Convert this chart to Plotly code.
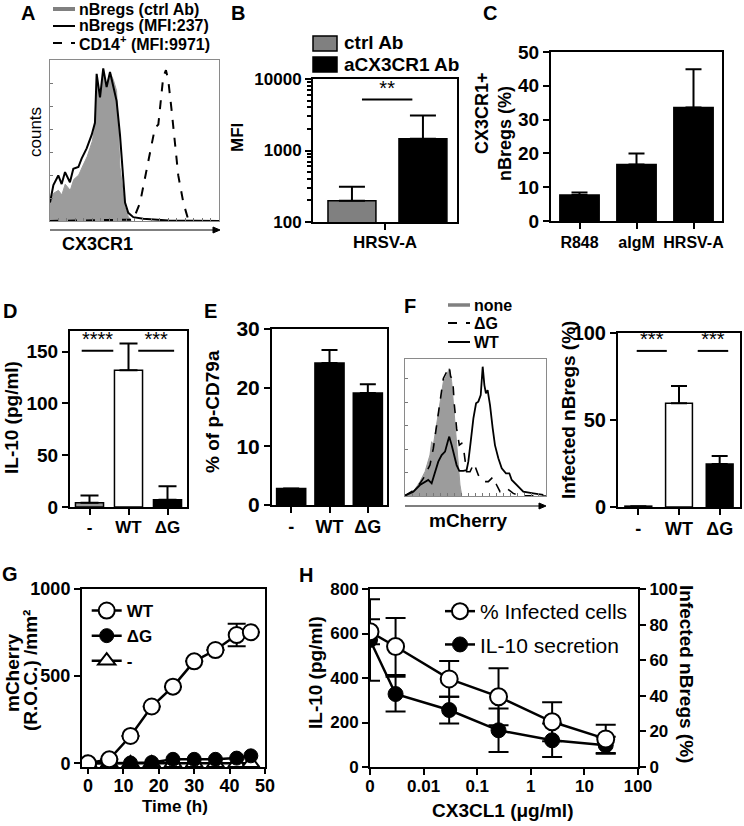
import plotly.graph_objects as go

W, H = 744, 826
FONT = "Liberation Sans, Arial, Helvetica, sans-serif"

# ---------------- data ----------------
# A: CX3CR1 histograms (relative fluorescence position, relative counts)
a_ctrl_pos = [0, 2, 5, 7, 9, 12, 14, 17, 19, 22, 25, 26.6, 27.6, 29.6, 31.5, 33.5, 35.5, 37.5, 39.4, 40.5, 41.4, 43.4, 44.4, 46.3, 48]
a_ctrl_cnt = [12, 18, 20, 17, 24, 20, 27, 30, 35, 42, 52, 62, 90, 80, 97, 88, 97, 92, 85, 60, 35, 18, 9, 3, 0]
a_nbreg_pos = [0, 2.0, 4.9, 6.9, 8.9, 11.8, 13.8, 16.8, 18.7, 21.7, 24.7, 26.6, 27.6, 29.6, 31.5, 33.5, 35.5, 37.5, 39.4, 41.4, 43.4, 44.4, 46.3, 49.3, 55.2, 62, 70, 100]
a_nbreg_cnt = [12.0, 23.5, 29.7, 24.1, 31.9, 25.3, 34.1, 35.2, 40.7, 47.4, 56.3, 64, 96, 80.6, 99.5, 87.3, 97.2, 87.3, 78.4, 56.3, 25.3, 12, 5.3, 2.5, 1.5, 1, 0.3, 0]
a_cd14_pos = [0, 49.3, 53.3, 57.2, 60.1, 62.1, 64.1, 66.1, 67.0, 68.6, 70.0, 72.0, 73.9, 75.9, 78.9, 81.8, 84.8, 100]
a_cd14_cnt = [0, 0.9, 12, 34.1, 51.8, 60.7, 62.9, 82.9, 93.9, 98.4, 91.7, 71.8, 49.6, 29.7, 12, 0.9, 0, 0]
a_legend = ["nBregs (ctrl Ab)", "nBregs (MFI:237)", "CD14<sup>+</sup> (MFI:9971)"]

# B: MFI
b_category = ["HRSV-A"]
b_series = ["ctrl Ab", "aCX3CR1 Ab"]
b_ctrl_mfi = [198]
b_ctrl_err = [112]
b_ab_mfi = [1460]
b_ab_err = [1630]
b_sig = [(-0.16, 0.19, 5150, "**")]

# C: CX3CR1+ nBregs (%)
c_cats = ["R848", "aIgM", "HRSV-A"]
c_vals = [7.7, 16.7, 33.6]
c_errs = [0.7, 3.3, 11.3]

# D: IL-10 (pg/ml)
d_cats = ["-", "WT", "ΔG"]
d_vals = [4, 132, 7]
d_errs = [7, 26, 13]
d_sig = [(-0.2, 0.61, 151, "****"), (1.25, 2.17, 151, "***")]

# E: % of p-CD79a
e_cats = ["-", "WT", "ΔG"]
e_vals = [2.8, 24.2, 19.1]
e_errs = [0, 2.2, 1.5]

# F: mCherry histograms + infected nBregs
f_none_pos = [0, 5.9, 10.6, 14.2, 17.7, 18.9, 20.1, 22.5, 24.8, 27.2, 29.6, 31.4, 33.1, 34.3, 36.2, 37.8, 39.0, 40.2]
f_none_cnt = [0.3, 3.3, 11, 18.6, 31.4, 41.6, 39, 54.4, 72.3, 87.6, 92.7, 97.8, 87.6, 72.3, 49.3, 26.3, 8.4, 0.8]
f_dg_pos = [0, 8.3, 13.0, 17.7, 20.1, 22.5, 24.8, 27.2, 29.6, 31.4, 32.4, 33.8, 35.0, 36.6, 38.5, 40.2, 41.8, 43.7, 46.1, 48.9,
            52.0, 55.6, 59.1, 62.6, 65.0, 67.4, 72.1, 76.8, 81.6, 100]
f_dg_cnt = [0.3, 5.9, 13.5, 23.7, 36.5, 54.4, 69.7, 90.1, 95.2, 99.1, 91.4, 90.1, 69.7, 51.8, 39, 40.3, 34, 18.6, 18.6, 25,
            16.1, 11, 11, 14.8, 8.4, 3.3, 5.9, 2.0, 0.3, 0]
f_wt_pos = [0, 5.9, 10.6, 14.2, 16.5, 18.9, 21.3, 23.6, 26.0, 28.4, 30.3, 31.4, 33.1, 35.0, 36.6, 38.5, 41.4, 43.7, 44.9, 46.6,
            48.5, 50.4, 52.0, 53.7, 55.1, 56.3, 57.4, 58.6, 60.3, 62.2, 63.8, 66.2, 68.6, 71.6, 74.0, 75.7, 79.2, 83.9, 91.0, 98.1]
f_wt_cnt = [0.3, 3.3, 8.4, 11, 12.3, 9.7, 17.4, 26.3, 31.4, 34, 41.6, 45.5, 39, 31.4, 23.7, 19.2, 19.2, 19.9, 26.3, 41.6,
            59.5, 71, 72.3, 77.4, 99.1, 85, 78.6, 81.2, 69.7, 51.8, 39, 28.9, 21.2, 17.4, 17.4, 12.3, 8.4, 3.3, 2, 0.8]
f_legend = ["none", "ΔG", "WT"]
f_cats = ["-", "WT", "ΔG"]
f_vals = [0.5, 59.6, 24.7]
f_errs = [0, 9.9, 4.6]
f_sig = [(-0.04, 0.70, 89.7, "***"), (1.46, 2.21, 89.7, "***")]

# G: mCherry (R.O.C.)/mm2 over time
g_time = [0, 6, 12, 18, 24, 30, 36, 42, 46]
g_wt = [0, 23, 157, 326, 440, 585, 650, 736, 752]
g_wt_err = [0, 0, 0, 0, 0, 0, 0, 65, 0]
g_dg = [0, 0, 2, 5, 23, 23, 23, 30, 43]
g_none = [0, 0, 0, 0, 0, 0, 0, 0, 0]

# H: CX3CL1 dose response
h_conc = [0, 0.003, 0.03, 0.25, 2.5, 25]
h_infected = [76, 67.7, 49.5, 39.5, 25.4, 15.8]
h_infected_err = [7, 16, 10, 16, 11, 8]
h_il10 = [571, 328, 256, 165, 120, 98]
h_il10_err = [183, 78, 60, 98, 75, 38]
h_zero_pos = 0.001  # position of the "0" break on the log axis


# ---------------- helpers (pixel -> paper) ----------------
def px(x):
    return x / W


def py(y):
    return 1 - y / H


def dom_x(a, b):
    return [px(a), px(b)]


def dom_y(top, bot):
    return [py(bot), py(top)]


def fnt(size, bold=True, color="black"):
    return dict(family=FONT, size=size, color=color, weight="bold" if bold else "normal")


def box_axis(size, **kw):
    d = dict(showline=True, linecolor="black", linewidth=2, mirror=True, ticks="outside",
             ticklen=6, tickwidth=2, tickcolor="black", showgrid=False, zeroline=False,
             tickfont=fnt(size), fixedrange=True, automargin=False, tickangle=0)
    d.update(kw)
    return d


def hist_axis(**kw):
    d = dict(showline=True, linecolor="#8a8a8a", linewidth=1, mirror=True, ticks="inside",
             ticklen=3, tickwidth=1, tickcolor="#777", showticklabels=False, showgrid=False,
             zeroline=False, fixedrange=True, automargin=False)
    d.update(kw)
    return d


def txt(s, x, y, size, bold=True, angle=0, xanchor="center"):
    return dict(text=s, x=px(x), y=py(y), xref="paper", yref="paper", showarrow=False,
                xanchor=xanchor, yanchor="middle", textangle=angle, font=fnt(size, bold))


def err(arr, w):
    return dict(type="data", array=arr, arrayminus=[0] * len(arr), symmetric=False,
                color="black", thickness=2, width=w)


fig = go.Figure()

# ---- A ----
fig.add_trace(go.Scatter(x=a_ctrl_pos, y=a_ctrl_cnt, mode="lines", fill="tozeroy",
                         fillcolor="#9c9c9c", line=dict(color="#9c9c9c", width=1),
                         xaxis="x", yaxis="y", showlegend=False))
fig.add_trace(go.Scatter(x=a_nbreg_pos, y=a_nbreg_cnt, mode="lines", line=dict(color="black", width=2),
                         xaxis="x", yaxis="y", showlegend=False))
fig.add_trace(go.Scatter(x=a_cd14_pos, y=a_cd14_cnt, mode="lines",
                         line=dict(color="black", width=2, dash="dash"),
                         xaxis="x", yaxis="y", showlegend=False))

# ---- B ----
fig.add_trace(go.Bar(x=[0], y=b_ctrl_mfi, width=0.333, offset=-0.396, name=b_series[0],
                     marker=dict(color="#808080", line=dict(color="black", width=1.5)),
                     error_y=err(b_ctrl_err, 13), xaxis="x2", yaxis="y2", showlegend=False))
fig.add_trace(go.Bar(x=[0], y=b_ab_mfi, width=0.333, offset=0.097, name=b_series[1],
                     marker=dict(color="black", line=dict(color="black", width=1.5)),
                     error_y=err(b_ab_err, 13), xaxis="x2", yaxis="y2", showlegend=False))

# ---- C ----
fig.add_trace(go.Bar(x=list(range(len(c_cats))), y=c_vals, width=0.69,
                     marker=dict(color="black", line=dict(color="black", width=1.5)),
                     error_y=err(c_errs, 8), xaxis="x3", yaxis="y3", showlegend=False))

# ---- D ----
fig.add_trace(go.Bar(x=list(range(len(d_cats))), y=d_vals, width=0.72,
                     marker=dict(color=["#9a9a9a", "white", "black"], line=dict(color="black", width=1.5)),
                     error_y=err(d_errs, 9), xaxis="x4", yaxis="y4", showlegend=False))

# ---- E ----
fig.add_trace(go.Bar(x=list(range(len(e_cats))), y=e_vals, width=0.76,
                     marker=dict(color="black", line=dict(color="black", width=1.5)),
                     error_y=err(e_errs, 8), xaxis="x5", yaxis="y5", showlegend=False))

# ---- F left ----
fig.add_trace(go.Scatter(x=f_none_pos, y=f_none_cnt, mode="lines", fill="tozeroy",
                         fillcolor="#9c9c9c", line=dict(color="#9c9c9c", width=1),
                         xaxis="x6", yaxis="y6", showlegend=False))
fig.add_trace(go.Scatter(x=f_dg_pos, y=f_dg_cnt, mode="lines", line=dict(color="black", width=1.6, dash="dash"),
                         xaxis="x6", yaxis="y6", showlegend=False))
fig.add_trace(go.Scatter(x=f_wt_pos, y=f_wt_cnt, mode="lines", line=dict(color="black", width=1.8),
                         xaxis="x6", yaxis="y6", showlegend=False))

# ---- F right ----
fig.add_trace(go.Bar(x=list(range(len(f_cats))), y=f_vals, width=0.66,
                     marker=dict(color=["#9a9a9a", "white", "black"], line=dict(color="black", width=1.5)),
                     error_y=err(f_errs, 8), xaxis="x7", yaxis="y7", showlegend=False))

# ---- significance brackets ----
for (xa, ya, sigs) in [("x2", "y2", b_sig), ("x4", "y4", d_sig), ("x7", "y7", f_sig)]:
    for (x0, x1, yv, stars) in sigs:
        fig.add_trace(go.Scatter(x=[x0, x1], y=[yv, yv], mode="lines", line=dict(color="black", width=2),
                                 xaxis=xa, yaxis=ya, showlegend=False, hoverinfo="skip"))
        fig.add_trace(go.Scatter(x=[(x0 + x1) / 2], y=[yv], mode="text", text=[stars],
                                 textposition="top center", textfont=fnt(20, False),
                                 xaxis=xa, yaxis=ya, showlegend=False, hoverinfo="skip"))

# ---- G ----
fig.add_trace(go.Scatter(x=g_time, y=g_none, mode="lines+markers", name="-",
                         line=dict(color="black", width=2.5),
                         marker=dict(symbol="triangle-up", size=15, color="white", line=dict(color="black", width=2)),
                         xaxis="x8", yaxis="y8", legend="legend", legendrank=3))
fig.add_trace(go.Scatter(x=g_time, y=g_dg, mode="lines+markers", name="ΔG",
                         line=dict(color="black", width=2.5),
                         marker=dict(symbol="circle", size=14, color="black", line=dict(color="black", width=1)),
                         xaxis="x8", yaxis="y8", legend="legend", legendrank=2))
fig.add_trace(go.Scatter(x=g_time, y=g_wt, mode="lines+markers", name="WT",
                         line=dict(color="black", width=2.5),
                         marker=dict(symbol="circle", size=16, color="white", line=dict(color="black", width=2)),
                         error_y=dict(type="data", array=g_wt_err, color="black", thickness=2, width=9),
                         xaxis="x8", yaxis="y8", legend="legend", legendrank=1))

# ---- H ----
h_x = [h_zero_pos if c == 0 else c for c in h_conc]
fig.add_trace(go.Scatter(x=h_x, y=h_il10, mode="lines+markers", name="IL-10 secretion",
                         line=dict(color="black", width=2.5),
                         marker=dict(symbol="circle", size=15, color="black", line=dict(color="black", width=1)),
                         error_y=dict(type="data", array=h_il10_err, color="black", thickness=2, width=10),
                         xaxis="x9", yaxis="y9", legend="legend2", legendgroup="il10", legendrank=2))
fig.add_trace(go.Scatter(x=h_x, y=h_infected, mode="lines+markers", name="% Infected cells",
                         line=dict(color="black", width=2.5),
                         marker=dict(symbol="circle", size=17, color="white", line=dict(color="black", width=2)),
                         error_y=dict(type="data", array=h_infected_err, color="black", thickness=2, width=10),
                         xaxis="x9", yaxis="y10", legend="legend2", legendgroup="inf", legendrank=1))

# ---------------- layout ----------------
b_minor = [v * m for v in (100, 1000) for m in range(2, 10)]

layout = dict(
    width=W, height=H, margin=dict(l=0, r=0, t=0, b=0, pad=0, autoexpand=False),
    paper_bgcolor="white", plot_bgcolor="white", barmode="overlay",
    font=dict(family=FONT, color="black"),
    # A
    xaxis=hist_axis(domain=dom_x(50, 219), anchor="y", range=[0, 100], dtick=5),
    yaxis=hist_axis(domain=dom_y(60, 221), anchor="x", range=[0, 105], dtick=15),
    # B
    xaxis2=box_axis(17, domain=dom_x(313, 457), anchor="y2", range=[-0.5, 0.5],
                    tickvals=[0], ticktext=b_category, ticklabelstandoff=-2),
    yaxis2=box_axis(17, domain=dom_y(79, 222), anchor="x2", type="log", range=[2, 4],
                    tickvals=[100, 1000, 10000], ticktext=["100", "1000", "10000"],
                    minor=dict(tickvals=b_minor, ticks="outside", ticklen=4, tickwidth=1.5,
                               tickcolor="black", showgrid=False)),
    # C
    xaxis3=box_axis(16, domain=dom_x(551, 722), anchor="y3", range=[-0.5, 2.5],
                    tickvals=list(range(len(c_cats))), ticktext=c_cats),
    yaxis3=box_axis(19, domain=dom_y(52, 221), anchor="x3", range=[0, 50], dtick=10),
    # D
    xaxis4=box_axis(17, domain=dom_x(70, 187), anchor="y4", range=[-0.5, 2.5],
                    tickvals=list(range(len(d_cats))), ticktext=d_cats, ticklabelstandoff=-2),
    yaxis4=box_axis(19, domain=dom_y(331, 507), anchor="x4", range=[0, 170],
                    tickvals=[0, 50, 100, 150]),
    # E
    xaxis5=box_axis(18, domain=dom_x(272, 387), anchor="y5", range=[-0.5, 2.5],
                    tickvals=list(range(len(e_cats))), ticktext=e_cats, ticklabelstandoff=-2),
    yaxis5=box_axis(21, domain=dom_y(329, 505), anchor="x5", range=[0, 30], dtick=10),
    # F left
    xaxis6=hist_axis(domain=dom_x(405, 546), anchor="y6", range=[0, 100], dtick=5),
    yaxis6=hist_axis(domain=dom_y(359, 496), anchor="x6", range=[0, 105], dtick=18),
    # F right
    xaxis7=box_axis(18, domain=dom_x(618, 740), anchor="y7", range=[-0.5, 2.5],
                    tickvals=list(range(len(f_cats))), ticktext=f_cats, ticklabelstandoff=-2),
    yaxis7=box_axis(20, domain=dom_y(333, 507), anchor="x7", range=[0, 100],
                    tickvals=[0, 50, 100]),
    # G
    xaxis8=box_axis(18, domain=dom_x(82, 265), anchor="y8", range=[-1.7, 50], dtick=10, ticklen=5,
                    ticklabelstandoff=-4),
    yaxis8=box_axis(18, domain=dom_y(589, 767), anchor="x8", range=[-21, 1000],
                    tickvals=[0, 500, 1000]),
    # H
    xaxis9=box_axis(17, domain=dom_x(370, 638), anchor="y9", type="log", range=[-3, 2],
                    tickvals=[0.001, 0.01, 0.1, 1, 10, 100],
                    ticktext=["0", "0.01", "0.1", "1", "10", "100"], ticklabelstandoff=-3),
    yaxis9=box_axis(17, domain=dom_y(589, 767), anchor="x9", range=[0, 800], dtick=200, mirror=False),
    yaxis10=box_axis(17, domain=dom_y(589, 767), anchor="x9", overlaying="y9", side="right",
                     range=[0, 100], dtick=20, mirror=False),
    legend=dict(x=px(126.7 - 40), y=py(593), xanchor="left", yanchor="top", xref="paper", yref="paper",
                font=fnt(17), bgcolor="rgba(0,0,0,0)", itemwidth=30, traceorder="normal"),
    legend2=dict(x=px(480 - 40), y=py(591), xanchor="left", yanchor="top", xref="paper", yref="paper",
                 font=fnt(21, False), bgcolor="rgba(0,0,0,0)", itemwidth=30, traceorder="grouped",
                 tracegroupgap=3),
)

annotations = [
    # panel letters
    txt("A", 28, 13, 20), txt("B", 238, 13, 20), txt("C", 490, 13, 20),
    txt("D", 10, 311, 20), txt("E", 210, 311, 20), txt("F", 410, 306, 20),
    txt("G", 10, 574, 20), txt("H", 306, 575, 20),
    # A
    txt("counts", 35, 132, 17, bold=False, angle=-90),
    txt("CX3CR1", 97, 244, 18),
    txt(a_legend[0], 77, 9, 16, xanchor="left"),
    txt(a_legend[1], 77, 26, 16, xanchor="left"),
    txt(a_legend[2], 77, 43, 16, xanchor="left"),
    # B
    txt("MFI", 238, 138, 17, angle=-90),
    txt(b_series[0], 342, 43, 19, xanchor="left"),
    txt(b_series[1], 342, 64, 19, xanchor="left"),
    # C
    txt("CX3CR1+", 482, 113, 18, angle=-90),
    txt("nBregs (%)", 505, 133, 18, angle=-90),
    # D, E
    txt("IL-10 (pg/ml)", 12, 418, 19, angle=-90),
    txt("% of p-CD79a", 212, 412, 19, angle=-90),
    # F
    txt(f_legend[0], 472, 305, 16, xanchor="left"),
    txt(f_legend[1], 472, 323, 16, xanchor="left"),
    txt(f_legend[2], 472, 342, 16, xanchor="left"),
    txt("mCherry", 468, 520, 19),
    txt("Infected nBregs (%)", 568, 410, 19, angle=-90),
    # G
    txt("mCherry", 12, 673, 19, angle=-90),
    txt("(R.O.C.) /mm²", 30, 671, 19, angle=-90),
    txt("Time (h)", 175, 806, 17),
    # H
    txt("IL-10 (pg/ml)", 315, 673, 19, angle=-90),
    txt("Infected nBregs (%)", 687, 674, 19, angle=90),
    txt("CX3CL1 (μg/ml)", 503, 810, 19),
]


def pline(x0, x1, y, color="black", width=2, dash="solid"):
    return dict(type="line", xref="paper", yref="paper", x0=px(x0), x1=px(x1), y0=py(y), y1=py(y),
                line=dict(color=color, width=width, dash=dash))


def prect(x0, x1, y0, y1, fill):
    return dict(type="rect", xref="paper", yref="paper", x0=px(x0), x1=px(x1), y0=py(y1), y1=py(y0),
                fillcolor=fill, line=dict(color="black", width=1.5))


def parrow(x0, x1, y):
    head = "M {:.5f},{:.5f} L {:.5f},{:.5f} L {:.5f},{:.5f} Z".format(
        px(x1), py(y), px(x1 - 7), py(y - 3), px(x1 - 7), py(y + 3))
    return [pline(x0, x1 - 2, y, "black", 1.2),
            dict(type="path", xref="paper", yref="paper", path=head, fillcolor="black",
                 line=dict(color="black", width=1))]


shapes = [
    # A legend keys
    pline(53, 75, 9, "#808080", 4), pline(53, 75, 26, "black", 2), pline(53, 75, 43, "black", 2, "dash"),
    # B legend keys
    prect(313, 337, 36, 51, "#808080"), prect(313, 337, 57, 72, "black"),
    # F legend keys
    pline(448, 470, 305, "#808080", 3.5), pline(448, 470, 323, "black", 2, "dash"), pline(448, 470, 342, "black", 2),
]
shapes += parrow(50, 220, 230)
shapes += parrow(405, 546, 506)

layout["annotations"] = annotations
layout["shapes"] = shapes
fig.update_layout(**layout)

# place the figure flush with the page's top-left corner
fig.write_html("out.html", config={"displayModeBar": False},
               post_script="document.body.style.margin='0px';document.body.style.padding='0px';")
